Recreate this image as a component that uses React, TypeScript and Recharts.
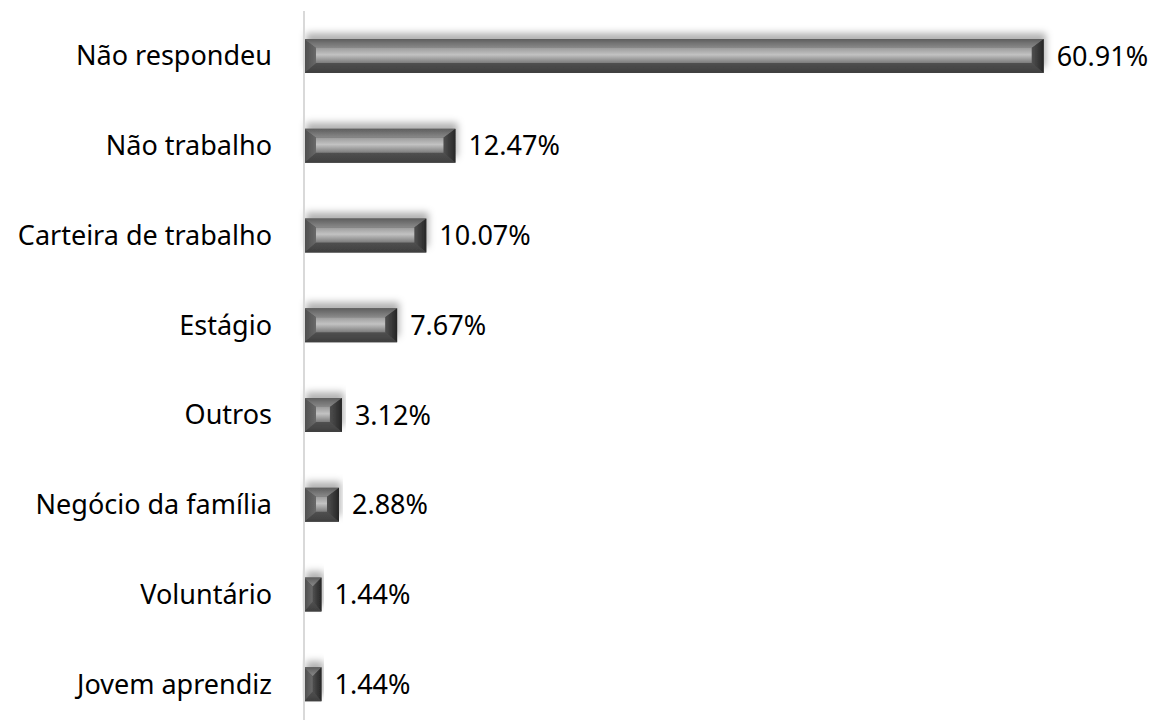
import { BarChart, Bar, XAxis, YAxis, LabelList } from "recharts";

const categories = [
  "Não respondeu",
  "Não trabalho",
  "Carteira de trabalho",
  "Estágio",
  "Outros",
  "Negócio da família",
  "Voluntário",
  "Jovem aprendiz",
];

const percentages = [60.91, 12.47, 10.07, 7.67, 3.12, 2.88, 1.44, 1.44];

const data = categories.map((name, i) => ({ name, value: percentages[i] }));

const FONT = "'Noto Sans', 'Open Sans', sans-serif";

// bevel-looking bar, roughly like the office "bevel" shape effect
// eslint-disable-next-line @typescript-eslint/no-explicit-any
function BevelBar(props: any) {
  const { x, y, width, height } = props;
  if (!width || width <= 0) return null;
  const ix = Math.min(12, width / 2);
  const it = Math.min(9, height / 2 - 2);
  const ib = Math.min(10, height / 2 - 2);
  const x2 = x + width;
  const y2 = y + height;
  const pts = (arr: number[][]) => arr.map((p) => p.join(",")).join(" ");
  return (
    <g filter="url(#barShadow)">
      <rect x={x} y={y} width={width} height={height} fill="#555555" />
      <polygon
        points={pts([[x, y], [x2, y], [x2 - ix, y + it], [x + ix, y + it]])}
        fill="url(#bevelTop)"
      />
      <polygon
        points={pts([[x, y2], [x2, y2], [x2 - ix, y2 - ib], [x + ix, y2 - ib]])}
        fill="url(#bevelBottom)"
      />
      <polygon
        points={pts([[x, y], [x + ix, y + it], [x + ix, y2 - ib], [x, y2]])}
        fill="url(#bevelLeft)"
      />
      <polygon
        points={pts([[x2, y], [x2 - ix, y + it], [x2 - ix, y2 - ib], [x2, y2]])}
        fill="url(#bevelRight)"
      />
      {width - 2 * ix > 0 && (
        <rect
          x={x + ix}
          y={y + it}
          width={width - 2 * ix}
          height={height - it - ib}
          fill="url(#bevelFace)"
        />
      )}
    </g>
  );
}

export default function App() {
  return (
    <div style={{ width: 1140, height: 712, overflow: "hidden", background: "#fff" }}>
      <BarChart
        width={1140}
        height={730}
        data={data}
        layout="vertical"
        margin={{ top: 3, right: 0, bottom: 9, left: 0 }}
        barCategoryGap={0}
      >
        <defs>
          <linearGradient id="bevelTop" x1="0" y1="0" x2="0" y2="1">
            <stop offset="0%" stopColor="#5e5e5e" />
            <stop offset="100%" stopColor="#8a8a8a" />
          </linearGradient>
          <linearGradient id="bevelBottom" x1="0" y1="0" x2="0" y2="1">
            <stop offset="0%" stopColor="#505050" />
            <stop offset="100%" stopColor="#3e3e3e" />
          </linearGradient>
          <linearGradient id="bevelLeft" x1="0" y1="0" x2="1" y2="0">
            <stop offset="0%" stopColor="#4c4c4c" />
            <stop offset="100%" stopColor="#6a6a6a" />
          </linearGradient>
          <linearGradient id="bevelRight" x1="0" y1="0" x2="1" y2="0">
            <stop offset="0%" stopColor="#505050" />
            <stop offset="100%" stopColor="#262626" />
          </linearGradient>
          <linearGradient id="bevelFace" x1="0" y1="0" x2="0" y2="1">
            <stop offset="0%" stopColor="#9c9c9c" />
            <stop offset="45%" stopColor="#c2c2c2" />
            <stop offset="100%" stopColor="#7c7c7c" />
          </linearGradient>
          <filter id="barShadow" x="-10%" y="-60%" width="120%" height="200%">
            <feDropShadow dx="2" dy="-6" stdDeviation="3.5" floodColor="#000" floodOpacity="0.3" />
          </filter>
        </defs>
        <XAxis type="number" domain={[0, 69.5]} hide />
        <YAxis
          type="category"
          dataKey="name"
          width={296}
          tickLine={false}
          tickSize={0}
          tickMargin={32}
          axisLine={{ stroke: "#d9d9d9", strokeWidth: 2 }}
          tick={{ fill: "#000", fontSize: 27, fontFamily: FONT }}
        />
        <Bar dataKey="value" barSize={34} shape={<BevelBar />} isAnimationActive={false}>
          <LabelList
            dataKey="value"
            position="right"
            offset={13}
            formatter={(v: number) => `${v.toFixed(2)}%`}
            style={{ fill: "#000", fontSize: 27, fontFamily: FONT }}
          />
        </Bar>
      </BarChart>
    </div>
  );
}
